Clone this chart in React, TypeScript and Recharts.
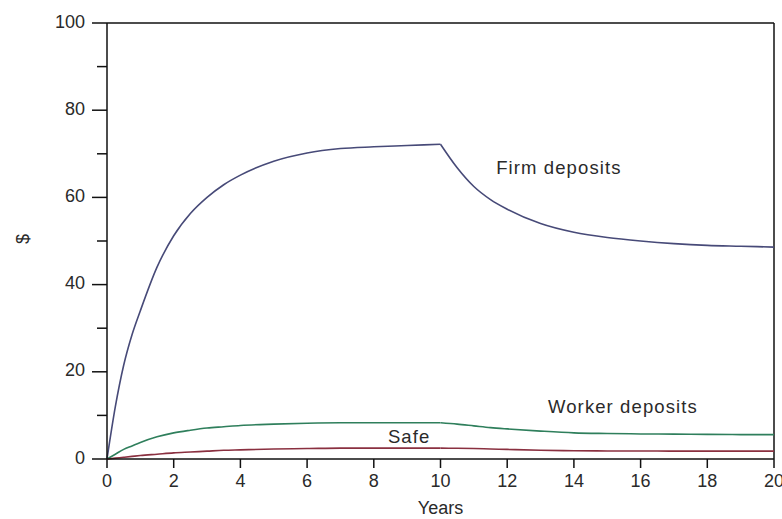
import React from 'react';
import { LineChart, Line, XAxis, YAxis, ReferenceLine, ReferenceDot } from 'recharts';

const years = [0, 0.25, 0.5, 0.75, 1, 1.5, 2, 2.5, 3, 3.5, 4, 5, 6, 7, 8, 9, 10, 10.5, 11, 11.5, 12, 13, 14, 15, 16, 17, 18, 19, 20];
const firmDeposits = [0, 12, 21.5, 28.5, 34, 44, 51.2, 56.3, 60.0, 62.9, 65.1, 68.3, 70.2, 71.2, 71.6, 71.9, 72.2, 66.8, 62.5, 59.5, 57.3, 54.0, 52.0, 50.8, 50.0, 49.4, 49.0, 48.8, 48.6];
const workerDeposits = [0, 1.1, 2.2, 3.0, 3.8, 5.1, 6.0, 6.6, 7.1, 7.4, 7.7, 8.0, 8.2, 8.3, 8.3, 8.3, 8.3, 8.0, 7.6, 7.2, 6.9, 6.4, 6.0, 5.85, 5.75, 5.7, 5.65, 5.6, 5.6];
const safe = [0, 0.2, 0.4, 0.6, 0.8, 1.1, 1.4, 1.6, 1.8, 2.0, 2.1, 2.3, 2.4, 2.5, 2.5, 2.5, 2.5, 2.45, 2.4, 2.3, 2.2, 2.0, 1.9, 1.85, 1.85, 1.8, 1.8, 1.8, 1.8];

const switchYear = 10;
const xTicks = [0, 2, 4, 6, 8, 10, 12, 14, 16, 18, 20];
const yTicks = [0, 10, 20, 30, 40, 50, 60, 70, 80, 90, 100];
const yLabelled = [0, 20, 40, 60, 80, 100];

// Split each series into the phase before and after year 10 so the kink stays sharp.
const data = years.map((t, i) => ({
  t,
  firmA: t <= switchYear ? firmDeposits[i] : null,
  firmB: t >= switchYear ? firmDeposits[i] : null,
  workerA: t <= switchYear ? workerDeposits[i] : null,
  workerB: t >= switchYear ? workerDeposits[i] : null,
  safeA: t <= switchYear ? safe[i] : null,
  safeB: t >= switchYear ? safe[i] : null,
}));

const FONT = '"Liberation Sans", Arial, Helvetica, sans-serif';
const TEXT = '#2a2a2a';
const AXIS = '#111';
const FIRM = '#474a78';
const WORKER = '#2f7f5c';
const SAFE = '#8a3040';

const YTick = (props: any) => {
  const { x, y, payload } = props;
  const major = yLabelled.includes(payload.value);
  return (
    <g>
      <line x1={x - (major ? 15 : 10)} x2={x} y1={y} y2={y} stroke={AXIS} strokeWidth={1.5} />
      {major && (
        <text x={x - 22} y={y + 4.5} textAnchor="end" fontSize={18} fontFamily={FONT} fill={TEXT}>
          {payload.value}
        </text>
      )}
    </g>
  );
};

const textLabel = (value: string) => (props: any) => {
  const vb = props.viewBox || {};
  const cx = vb.x + (vb.width || 0) / 2;
  const cy = vb.y + (vb.height || 0) / 2;
  return (
    <text x={cx} y={cy} textAnchor="middle" fontSize={18.5} letterSpacing={1.1} fontFamily={FONT} fill={TEXT}>
      {value}
    </text>
  );
};

const series = (key: string, color: string) => (
  <Line
    key={key}
    type="monotone"
    dataKey={key}
    stroke={color}
    strokeWidth={1.6}
    dot={false}
    connectNulls={false}
    isAnimationActive={false}
  />
);

export default function App() {
  return (
    <div style={{ position: 'absolute', left: 0, top: 0, width: 782, height: 519, background: '#fff' }}>
      <LineChart width={782} height={519} data={data} margin={{ top: 23, right: 8, left: 10, bottom: 0 }}>
        <XAxis
          dataKey="t"
          type="number"
          domain={[0, 20]}
          ticks={xTicks}
          interval={0}
          height={60}
          tickSize={9}
          tickMargin={6}
          axisLine={{ stroke: AXIS, strokeWidth: 1.5 }}
          tickLine={{ stroke: AXIS, strokeWidth: 1.5 }}
          tick={{ fontSize: 18, fill: TEXT, fontFamily: FONT }}
          label={(p: any) => {
            const vb = p.viewBox;
            return (
              <text x={vb.x + vb.width / 2} y={vb.y + 55} textAnchor="middle" fontSize={18} fontFamily={FONT} fill={TEXT}>
                Years
              </text>
            );
          }}
        />
        <YAxis
          type="number"
          domain={[0, 100]}
          ticks={yTicks}
          interval={0}
          width={97}
          tickSize={0}
          tickMargin={0}
          tickLine={false}
          axisLine={{ stroke: AXIS, strokeWidth: 1.5 }}
          tick={<YTick />}
          label={(p: any) => {
            const vb = p.viewBox;
            const lx = vb.x + 13;
            const ly = vb.y + vb.height / 2 - 2;
            return (
              <text x={lx} y={ly} textAnchor="middle" dominantBaseline="central" fontSize={18} fontFamily={FONT} fill={TEXT} transform={`rotate(-90, ${lx}, ${ly})`}>
                $
              </text>
            );
          }}
        />
        <ReferenceLine y={100} stroke={AXIS} strokeWidth={1.5} />
        <ReferenceLine x={20} stroke={AXIS} strokeWidth={1.5} />
        {series('firmA', FIRM)}
        {series('firmB', FIRM)}
        {series('workerA', WORKER)}
        {series('workerB', WORKER)}
        {series('safeA', SAFE)}
        {series('safeB', SAFE)}
        <ReferenceDot x={13.55} y={65.4} r={0} fill="none" stroke="none" label={textLabel('Firm deposits')} />
        <ReferenceDot x={15.47} y={10.55} r={0} fill="none" stroke="none" label={textLabel('Worker deposits')} />
        <ReferenceDot x={9.06} y={3.67} r={0} fill="none" stroke="none" label={textLabel('Safe')} />
      </LineChart>
    </div>
  );
}
